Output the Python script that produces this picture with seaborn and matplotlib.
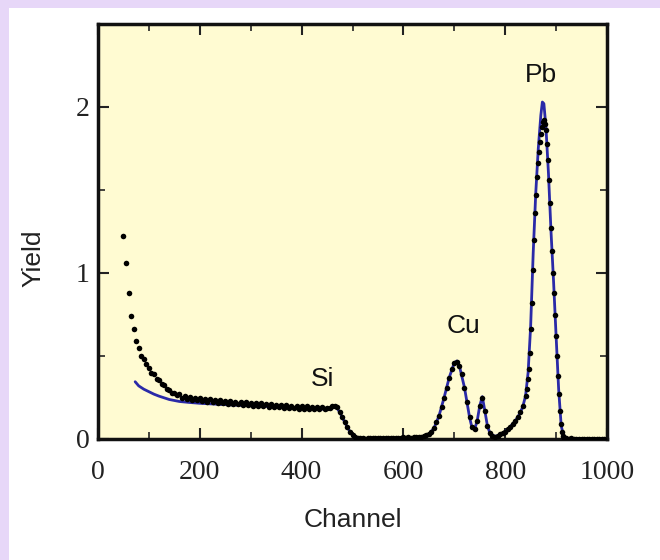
import matplotlib
matplotlib.use("Agg")
import matplotlib.pyplot as plt
from matplotlib.patches import Rectangle
from matplotlib.ticker import MultipleLocator
import seaborn as sns
import pandas as pd

# measured spectrum (black dots)
channel = [50, 55, 60, 65, 70, 75, 80, 85, 90, 95,
           100, 105, 110, 115, 120, 125, 130, 135, 140, 145,
           150, 155, 160, 165, 170, 175, 180, 185, 190, 195,
           200, 205, 210, 215, 220, 225, 230, 235, 240, 245,
           250, 255, 260, 265, 270, 275, 280, 285, 290, 295,
           300, 305, 310, 315, 320, 325, 330, 335, 340, 345,
           350, 355, 360, 365, 370, 375, 380, 385, 390, 395,
           400, 405, 410, 415, 420, 425, 430, 435, 440, 445,
           450, 455, 460, 465, 470, 475, 480, 485, 490, 495,
           500, 505, 510, 515, 520, 525, 530, 535, 540, 545,
           550, 555, 560, 565, 570, 575, 580, 585, 590, 595,
           600, 605, 610, 615, 620, 625, 630, 635, 640, 645,
           650, 655, 660, 665, 670, 675, 680, 685, 690, 695,
           700, 705, 710, 715, 720, 725, 730, 735, 740, 745,
           750, 755, 760, 765, 770, 775, 780, 785, 790, 795,
           800, 805, 810, 815, 820, 825, 830, 835,
           840, 842, 844, 846, 848, 850, 852, 854, 856, 858,
           860, 862, 864, 866, 868, 870, 872, 874, 876, 878,
           880, 882, 884, 886, 888, 890, 892, 894, 896, 898,
           900, 902, 904, 906, 908, 910, 912, 914, 916, 918,
           920, 925, 930, 935, 940, 945, 950, 955, 960, 965,
           970, 975, 980, 985, 990, 995]
yield_data = [1.22, 1.06, 0.88, 0.74, 0.66, 0.59, 0.55, 0.50, 0.48, 0.45,
              0.43, 0.40, 0.39, 0.36, 0.355, 0.33, 0.325, 0.30, 0.295, 0.28,
              0.275, 0.265, 0.27, 0.25, 0.262, 0.24, 0.255, 0.235, 0.25, 0.232,
              0.245, 0.228, 0.242, 0.222, 0.238, 0.22, 0.235, 0.218, 0.232, 0.215,
              0.23, 0.212, 0.228, 0.21, 0.225, 0.208, 0.224, 0.205, 0.22, 0.204,
              0.218, 0.2, 0.215, 0.198, 0.214, 0.196, 0.21, 0.195, 0.208, 0.193,
              0.206, 0.19, 0.205, 0.188, 0.202, 0.187, 0.2, 0.185, 0.199, 0.183,
              0.198, 0.182, 0.196, 0.18, 0.195, 0.179, 0.194, 0.178, 0.193, 0.18,
              0.188, 0.184, 0.196, 0.20, 0.19, 0.16, 0.13, 0.10, 0.07, 0.045,
              0.025, 0.012, 0.005, 0.004, 0.006, 0.003, 0.005, 0.004, 0.007, 0.004,
              0.006, 0.005, 0.008, 0.005, 0.007, 0.006, 0.009, 0.006, 0.008, 0.007,
              0.010, 0.008, 0.011, 0.009, 0.012, 0.011, 0.014, 0.015, 0.018, 0.022,
              0.030, 0.045, 0.065, 0.10, 0.14, 0.19, 0.25, 0.31, 0.37, 0.42,
              0.46, 0.465, 0.44, 0.39, 0.31, 0.22, 0.13, 0.07, 0.06, 0.11,
              0.20, 0.25, 0.17, 0.08, 0.035, 0.018, 0.015, 0.02, 0.028, 0.035,
              0.045, 0.06, 0.075, 0.09, 0.11, 0.13, 0.16, 0.20,
              0.26, 0.30, 0.36, 0.42, 0.52, 0.66, 0.82, 1.02, 1.20, 1.36,
              1.47, 1.58, 1.66, 1.73, 1.79, 1.84, 1.88, 1.91, 1.92, 1.90,
              1.86, 1.78, 1.68, 1.56, 1.42, 1.27, 1.13, 1.00, 0.88, 0.75,
              0.62, 0.50, 0.38, 0.27, 0.17, 0.09, 0.04, 0.018, 0.008, 0.005,
              0.004, 0.003, 0.004, 0.003, 0.002, 0.003, 0.002, 0.003, 0.002, 0.003,
              0.002, 0.003, 0.002, 0.003, 0.002, 0.003]

# fitted simulation (blue line)
fit_channel = [73, 80, 90, 100, 110, 120, 130, 140, 150, 160,
               180, 200, 250, 300, 350, 400, 440, 455, 465, 470,
               475, 480, 485, 490, 495, 500, 505, 510, 550, 600,
               630, 640, 650, 660, 670, 680, 690, 700, 705, 710,
               720, 730, 735, 740, 745, 750, 755, 760, 765, 770,
               780, 790, 800, 810, 820, 830, 835, 840, 845, 850,
               855, 860, 865, 870, 873, 876, 880, 885, 890, 895,
               900, 905, 910, 915, 920, 1000]
fit_yield = [0.345, 0.32, 0.30, 0.285, 0.27, 0.258, 0.248, 0.238, 0.232, 0.226,
             0.22, 0.215, 0.207, 0.20, 0.193, 0.186, 0.18, 0.182, 0.19, 0.185,
             0.16, 0.13, 0.10, 0.07, 0.045, 0.025, 0.01, 0.003, 0.003, 0.006,
             0.01, 0.015, 0.03, 0.065, 0.14, 0.25, 0.37, 0.46, 0.47, 0.44,
             0.31, 0.13, 0.065, 0.06, 0.11, 0.20, 0.255, 0.17, 0.08, 0.035,
             0.015, 0.028, 0.045, 0.075, 0.11, 0.16, 0.20, 0.26, 0.40, 0.68,
             1.12, 1.48, 1.75, 1.95, 2.03, 2.02, 1.88, 1.60, 1.25, 0.95,
             0.62, 0.30, 0.08, 0.015, 0.003, 0.002]

peak_labels = ["Si", "Cu", "Pb"]
peak_x = [441, 718, 870]
peak_y = [0.36, 0.68, 2.19]

sns.set_theme(style="ticks")
plt.rcParams["font.family"] = ["Liberation Sans", "DejaVu Sans"]

fig = plt.figure(figsize=(6.6, 5.6), dpi=100)
fig.patch.set_facecolor("#E7D7F8")
fig.patches.append(Rectangle((9 / 660, 0), 1, 1 - 8 / 560, transform=fig.transFigure,
                             facecolor="white", edgecolor="none", zorder=-10))

ax = fig.add_axes([98 / 660, 1 - 439 / 560, (607 - 98) / 660, (439 - 24) / 560])
ax.set_facecolor("#FFFBD2")

df = pd.DataFrame({"Channel": channel, "Yield": yield_data})
fit_df = pd.DataFrame({"Channel": fit_channel, "Yield": fit_yield})

sns.lineplot(data=fit_df, x="Channel", y="Yield", ax=ax, color="#2A2AA8",
             linewidth=2.0, estimator=None, sort=True, zorder=2)
sns.scatterplot(data=df, x="Channel", y="Yield", ax=ax, color="black",
                s=16, linewidth=0, zorder=3)

for lab, x, y in zip(peak_labels, peak_x, peak_y):
    ax.text(x, y, lab, ha="center", va="center", fontsize=19, color="#111111",
            family=["Liberation Sans", "DejaVu Sans"])

ax.set_xlim(0, 1000)
ax.set_ylim(0, 2.5)
ax.xaxis.set_major_locator(MultipleLocator(200))
ax.xaxis.set_minor_locator(MultipleLocator(100))
ax.yaxis.set_major_locator(MultipleLocator(1))
ax.yaxis.set_minor_locator(MultipleLocator(0.5))
ax.tick_params(which="both", direction="in", top=True, right=True, color="#222222")
ax.tick_params(which="major", length=8, width=1.5)
ax.tick_params(which="minor", length=5, width=1.2)
ax.tick_params(axis="x", which="major", pad=15)
ax.tick_params(axis="y", which="major", pad=6)
for lab in ax.get_xticklabels() + ax.get_yticklabels():
    lab.set_family(["Liberation Serif", "DejaVu Serif"])
    lab.set_fontsize(20)
    lab.set_color("#222222")
for sp in ax.spines.values():
    sp.set_linewidth(2.5)
    sp.set_color("#111111")

ax.set_xlabel("Channel", fontsize=19, color="#222222")
ax.set_ylabel("Yield", fontsize=19, color="#222222")
ax.xaxis.set_label_coords(0.5, -0.166)
ax.yaxis.set_label_coords(-0.104, 0.436)

fig.savefig("out.png", dpi=100, facecolor=fig.get_facecolor())
